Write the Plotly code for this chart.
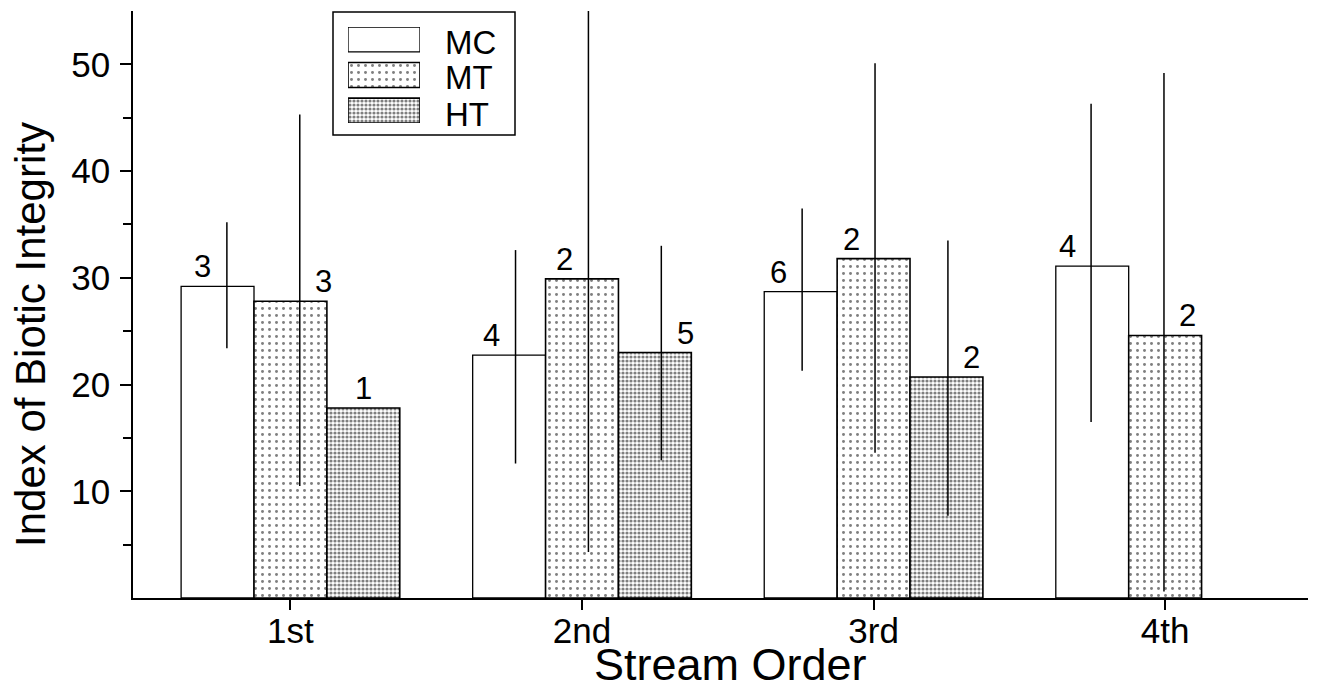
import plotly.graph_objects as go

# ---------------- data ----------------
categories = ["1st", "2nd", "3rd", "4th"]
series = ["MC", "MT", "HT"]

mc_mean = [29.2, 22.75, 28.7, 31.1]
mt_mean = [27.8, 29.9, 31.8, 24.6]
ht_mean = [17.8, 23.0, 20.7, None]

mc_low = [23.4, 12.6, 21.3, 16.5]
mc_high = [35.2, 32.6, 36.5, 46.3]
mt_low = [10.5, 4.3, 13.6, 0.6]
mt_high = [45.3, 55.5, 50.1, 49.2]
ht_low = [None, 12.9, 7.7, None]
ht_high = [None, 33.0, 33.5, None]

mc_n = [3, 4, 6, 4]
mt_n = [3, 2, 2, 2]
ht_n = [1, 5, 2, None]

y_ticks = [10, 20, 30, 40, 50]
y_minor_ticks = [5, 15, 25, 35, 45]

# ---------------- style / layout ----------------
FONT = "Liberation Sans, Arial, Helvetica, sans-serif"
W, H = 1320, 690
ML, MR, MT_, MB = 133, 12, 11, 92
PW, PH = W - ML - MR, H - MT_ - MB

def px_x(p):
    return (p - ML) / PW

def px_y(p):
    return (H - MB - p) / PH

BAR_W = 0.25
bar_offset = {"MC": -0.25, "MT": 0.0, "HT": 0.25}
err_shift = [0.032, 0.022, 0.005, -0.004]
label_side = {"MC": [-1, -1, -1, -1], "MT": [1, -1, -1, 1], "HT": [0, 1, 1, 0]}
LABEL_DX = 24

markers = {
    "MC": dict(color="white", line=dict(color="black", width=1.3)),
    "MT": dict(color="white", line=dict(color="black", width=1.6),
               pattern=dict(shape=".", size=7, solidity=0.14,
                            fgcolor="black", bgcolor="white")),
    "HT": dict(color="white", line=dict(color="black", width=1.6),
               pattern=dict(shape=".", size=4, solidity=0.5,
                            fgcolor="black", bgcolor="white")),
}

means = {"MC": mc_mean, "MT": mt_mean, "HT": ht_mean}
lows = {"MC": mc_low, "MT": mt_low, "HT": ht_low}
highs = {"MC": mc_high, "MT": mt_high, "HT": ht_high}
counts = {"MC": mc_n, "MT": mt_n, "HT": ht_n}

fig = go.Figure()
annotations = []

for s in series:
    xs = [i + bar_offset[s] for i in range(len(categories))]
    fig.add_trace(go.Bar(
        x=xs, y=means[s], width=BAR_W, name=s, base=0,
        marker=markers[s], hoverinfo="skip", showlegend=False,
    ))
    ex, ey = [], []
    for i in range(len(categories)):
        lo, hi = lows[s][i], highs[s][i]
        if lo is not None and hi is not None:
            x = xs[i] + err_shift[i]
            ex += [x, x, None]
            ey += [lo, hi, None]
    fig.add_trace(go.Scatter(
        x=ex, y=ey, mode="lines", line=dict(color="black", width=1.5),
        hoverinfo="skip", showlegend=False,
    ))
    for i in range(len(categories)):
        n = counts[s][i]
        v = means[s][i]
        if n is None or v is None:
            continue
        has_err = lows[s][i] is not None
        x = xs[i] + (err_shift[i] if has_err else 0)
        annotations.append(dict(
            x=x, y=v, xref="x", yref="y", text=str(n), showarrow=False,
            xanchor="center", yanchor="bottom",
            xshift=label_side[s][i] * LABEL_DX, yshift=0,
            font=dict(size=31, family=FONT, color="black"),
        ))

# legend built from a small inset axis so swatches can carry the fill patterns
for k, s in enumerate(series):
    fig.add_trace(go.Bar(
        x=[1], y=[k], base=0, orientation="h", width=0.70,
        xaxis="x2", yaxis="y2", marker=markers[s],
        hoverinfo="skip", showlegend=False,
    ))
    annotations.append(dict(
        x=px_x(443), y=px_y(42 + k * 36), xref="paper", yref="paper",
        text=s, showarrow=False, xanchor="left", yanchor="middle",
        font=dict(size=33, family=FONT, color="black"),
    ))

# axis titles
annotations.append(dict(
    x=px_x(30), y=px_y(335), xref="paper", yref="paper",
    text="Index of Biotic Integrity", textangle=-90, showarrow=False,
    xanchor="center", yanchor="middle",
    font=dict(size=42, family=FONT, color="black"),
))
annotations.append(dict(
    x=px_x(730), y=px_y(664), xref="paper", yref="paper",
    text="Stream Order", showarrow=False,
    xanchor="center", yanchor="middle",
    font=dict(size=45, family=FONT, color="black"),
))

fig.update_layout(
    width=W, height=H,
    margin=dict(l=ML, r=MR, t=MT_, b=MB, pad=0),
    paper_bgcolor="white", plot_bgcolor="white",
    showlegend=False, barmode="overlay",
    font=dict(family=FONT, color="black"),
    xaxis=dict(
        range=[-0.54, 3.49], tickmode="array",
        tickvals=list(range(len(categories))), ticktext=categories,
        ticks="outside", ticklen=10, tickwidth=1.5, tickcolor="black",
        showline=True, linecolor="black", linewidth=1.6,
        showgrid=False, zeroline=False,
        tickfont=dict(size=35, family=FONT, color="black"),
        ticklabelstandoff=-9,
        fixedrange=True,
    ),
    yaxis=dict(
        range=[0, 55], tickmode="array", tickvals=y_ticks,
        ticks="outside", ticklen=11, tickwidth=1.5, tickcolor="black",
        showline=True, linecolor="black", linewidth=1.6,
        showgrid=False, zeroline=False,
        tickfont=dict(size=35, family=FONT, color="black"),
        ticklabelstandoff=3,
        minor=dict(tickmode="array", tickvals=y_minor_ticks, ticks="outside",
                   ticklen=8, tickwidth=1.5, tickcolor="black", showgrid=False),
        fixedrange=True,
    ),
    xaxis2=dict(domain=[px_x(348), px_x(420)], anchor="y2",
                range=[0, 1], visible=False, fixedrange=True),
    yaxis2=dict(domain=[px_y(123), px_y(27)], anchor="x2",
                range=[2.35, -0.35], visible=False, fixedrange=True),
    shapes=[dict(
        type="rect", xref="paper", yref="paper",
        x0=px_x(333), x1=px_x(515), y0=px_y(135), y1=px_y(12),
        line=dict(color="black", width=1.5), fillcolor="rgba(0,0,0,0)",
        layer="below",
    )],
    annotations=annotations,
)

fig.write_html(
    "out.html",
    config={"displayModeBar": False},
    post_script="document.body.style.margin='0';document.body.style.overflow='hidden';",
)
